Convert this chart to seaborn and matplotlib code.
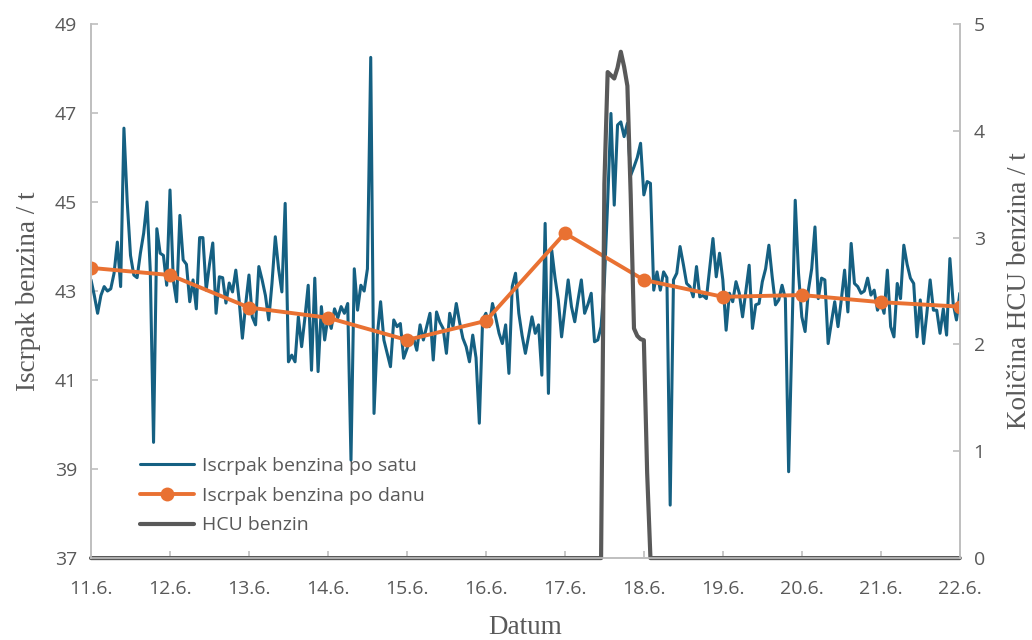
"""
Iscrpak benzina po satu / po danu i HCU benzin
"""

import numpy as np
import pandas as pd
import matplotlib
matplotlib.use("Agg")
import matplotlib.pyplot as plt
import seaborn as sns

# dani u lipnju (os x)
days = [11, 12, 13, 14, 15, 16, 17, 18, 19, 20, 21, 22]
day_labels = [f"{d}.6." for d in days]

# iscrpak po danu (t)
daily_vals = [43.52, 43.36, 42.63, 42.40, 41.90, 42.33, 44.30, 43.25, 42.87, 42.91, 42.75, 42.65]

# iscrpak po satu (t), od 11.6. 00h do 22.6. 00h
hourly_vals = [
    43.25, 42.9, 42.5, 42.9, 43.1, 43.0, 43.05, 43.4, 44.1, 43.1, 46.66, 45.0,
    43.8, 43.36, 43.3, 43.85, 44.3, 45.0, 43.47, 39.6, 44.4, 43.85, 43.8, 43.13,
    45.27, 43.25, 42.76, 44.7, 43.7, 43.6, 42.76, 43.25, 42.6, 44.2, 44.2, 43.02,
    43.6, 44.08, 42.5, 43.32, 43.3, 42.73, 43.18, 42.98, 43.47, 42.8, 41.94, 42.7,
    43.36, 42.42, 42.24, 43.55, 43.25, 42.9, 42.35, 43.18, 44.22, 43.5, 42.98, 44.97,
    41.41, 41.56, 41.41, 42.42, 41.75, 42.4, 43.13, 41.22, 43.29, 41.19, 42.65, 41.9,
    42.42, 42.16, 42.6, 42.4, 42.65, 42.5, 42.72, 39.2, 43.5, 42.57, 43.13, 43.0,
    43.5, 48.25, 40.25, 42.0, 42.76, 41.9, 41.6, 41.3, 42.35, 42.2, 42.27, 41.49,
    41.7, 41.9, 41.94, 41.67, 42.24, 41.9, 42.2, 42.5, 41.45, 42.53, 42.3, 42.16,
    41.6, 42.5, 42.2, 42.72, 42.3, 41.94, 41.75, 41.41, 42.01, 41.5, 40.03, 42.35,
    42.5, 42.2, 42.72, 42.4, 42.05, 41.82, 42.24, 41.15, 43.1, 43.4, 42.5, 42.0,
    41.6, 42.0, 42.42, 42.05, 42.24, 41.11, 44.52, 40.7, 43.92, 43.3, 42.8, 41.97,
    42.6, 43.25, 42.65, 42.31, 42.8, 43.25, 42.5, 42.7, 42.95, 41.86, 41.9, 42.2,
    43.2, 45.0, 46.99, 44.93, 46.73, 46.8, 46.47, 46.77, 45.6, 45.79, 46.0, 46.32,
    45.16, 45.46, 45.42, 43.02, 43.43, 43.02, 43.43, 43.3, 38.19, 43.25, 43.4, 44.0,
    43.6, 43.17, 43.1, 42.87, 43.55, 42.87, 42.9, 42.83, 43.5, 44.18, 43.32, 43.85,
    43.25, 42.12, 42.95, 42.76, 43.21, 42.95, 42.42, 43.0, 43.58, 42.16, 42.69, 42.72,
    43.21, 43.5, 44.03, 43.32, 42.69, 42.8, 43.13, 42.83, 38.94, 42.0, 45.04, 43.4,
    42.42, 42.09, 43.02, 43.5, 44.44, 42.83, 43.29, 43.25, 41.82, 42.3, 42.76, 42.2,
    42.8, 43.47, 42.53, 44.07, 43.17, 43.1, 42.95, 43.0, 43.29, 42.91, 43.02, 42.57,
    42.76, 42.5, 43.47, 42.2, 41.97, 43.17, 42.83, 44.03, 43.6, 43.29, 43.17, 41.97,
    42.8, 41.82, 42.5, 43.25, 42.57, 42.57, 42.05, 42.6, 42.01, 43.73, 42.72, 42.35,
    42.95,
]

# HCU benzin (t), isti satni raspored; rad samo 17.6. - 18.6.
hcu_run = [3.5, 4.55, 4.52, 4.49, 4.59, 4.74, 4.6, 4.42, 3.4, 2.15, 2.08, 2.05, 2.04, 0.8]
hcu_vals = [0.0] * 156 + hcu_run + [0.0] * 95

BLUE = "#156082"
ORANGE = "#E97132"
GRAY = "#595959"
SPINE = "#BFBFBF"

sns.set_theme(style="white")
plt.rcParams["font.family"] = ["Open Sans", "DejaVu Sans"]

hourly_x = days[0] + np.arange(len(hourly_vals)) / 24
df_h = pd.DataFrame({"dan": hourly_x, "satni": hourly_vals, "hcu": hcu_vals})
df_d = pd.DataFrame({"dan": days, "dnevni": daily_vals})

fig = plt.figure(figsize=(10.32, 6.4), dpi=100)
ax = fig.add_axes([0.0882, 0.128, 0.8418, 0.8345])
ax2 = ax.twinx()

sns.lineplot(data=df_h, x="dan", y="satni", ax=ax, color=BLUE, lw=2.2,
             label="Iscrpak benzina po satu", legend=False)
sns.lineplot(data=df_d, x="dan", y="dnevni", ax=ax, color=ORANGE, lw=2.8,
             marker="o", markersize=10, markeredgewidth=0,
             label="Iscrpak benzina po danu", legend=False)
sns.lineplot(data=df_h, x="dan", y="hcu", ax=ax2, color=GRAY, lw=3,
             label="HCU benzin", legend=False)
for ln in ax.lines + ax2.lines:
    ln.set_solid_joinstyle("round")
    ln.set_solid_capstyle("round")
for ln in ax2.lines:
    ln.set_clip_on(False)

ax.set_xlim(days[0], days[-1])
ax.set_ylim(37, 49)
ax.set_yticks(range(37, 50, 2))
ax2.set_ylim(0, 5)
ax2.set_yticks(range(0, 6))
ax.set_xticks(days)
ax.set_xticklabels(day_labels)

for a in (ax, ax2):
    for s in a.spines.values():
        s.set_color(SPINE)
        s.set_linewidth(1.2)
    a.spines["top"].set_visible(False)
    a.tick_params(colors=SPINE, labelcolor=GRAY, labelsize=14, direction="in",
                  length=5, width=1.2)
ax.tick_params(axis="x", pad=16)
ax.tick_params(axis="y", left=True, pad=10)
ax2.tick_params(axis="y", right=True, pad=10)
ax.tick_params(axis="x", bottom=True)

serif = ["Liberation Serif", "DejaVu Serif"]
ax.set_xlabel("Datum", fontsize=19.5, family=serif, color=GRAY, labelpad=12)
ax.set_ylabel("Iscrpak benzina / t", fontsize=19.5, family=serif, color=GRAY, labelpad=10)
ax2.set_ylabel("Količina HCU benzina / t", fontsize=19.5, family=serif, color=GRAY,
               labelpad=16)

h1, l1 = ax.get_legend_handles_labels()
h2, l2 = ax2.get_legend_handles_labels()
leg = ax2.legend(h1 + h2, l1 + l2, loc="upper left", bbox_to_anchor=(0.128, 0.298),
                 bbox_transform=fig.transFigure, frameon=False, fontsize=14,
                 handlelength=2.8, handletextpad=0.4, labelspacing=0.6,
                 borderaxespad=0)
for t in leg.get_texts():
    t.set_color(GRAY)

fig.savefig("out.png", dpi=100)
